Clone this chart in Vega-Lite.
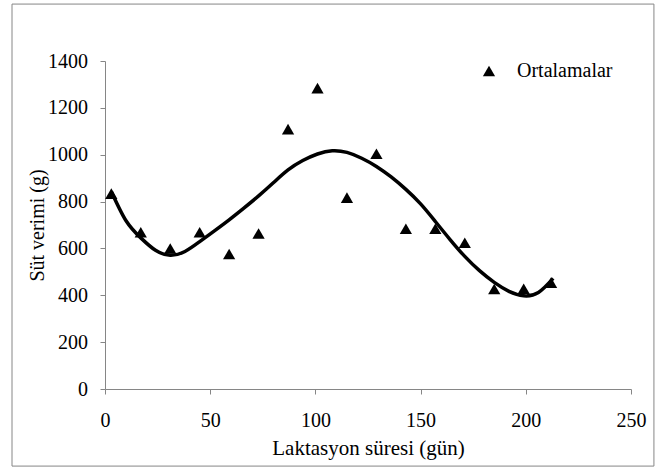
{
  "$schema": "https://vega.github.io/schema/vega-lite/v6.json",
  "width": 526,
  "height": 328,
  "autosize": {"type": "none"},
  "padding": {"left": 105, "top": 61, "right": 25, "bottom": 79},
  "background": "white",
  "config": {
    "view": {"stroke": null},
    "font": "Times New Roman",
    "axis": {
      "grid": false,
      "domainColor": "#868686",
      "tickColor": "#868686",
      "tickSize": 5,
      "labelFlush": false,
      "labelOverlap": false,
      "format": "d",
      "labelColor": "black",
      "titleColor": "black",
      "labelFont": "Times New Roman",
      "titleFont": "Times New Roman",
      "labelFontSize": 20,
      "titleFontSize": 20,
      "titleFontWeight": "normal"
    },
    "legend": {
      "labelFont": "Times New Roman"
    }
  },
  "datasets": {
    "means": [
      {"day": 3, "milk": 834, "series": "Ortalamalar"},
      {"day": 17, "milk": 669, "series": "Ortalamalar"},
      {"day": 31, "milk": 600, "series": "Ortalamalar"},
      {"day": 45, "milk": 669, "series": "Ortalamalar"},
      {"day": 59, "milk": 576, "series": "Ortalamalar"},
      {"day": 73, "milk": 664, "series": "Ortalamalar"},
      {"day": 87, "milk": 1109, "series": "Ortalamalar"},
      {"day": 101, "milk": 1284, "series": "Ortalamalar"},
      {"day": 115, "milk": 817, "series": "Ortalamalar"},
      {"day": 129, "milk": 1004, "series": "Ortalamalar"},
      {"day": 143, "milk": 684, "series": "Ortalamalar"},
      {"day": 157, "milk": 684, "series": "Ortalamalar"},
      {"day": 171, "milk": 624, "series": "Ortalamalar"},
      {"day": 185, "milk": 427, "series": "Ortalamalar"},
      {"day": 199, "milk": 428, "series": "Ortalamalar"},
      {"day": 212, "milk": 454, "series": "Ortalamalar"}
    ],
    "fit": [
      {"day": 3, "milk": 843},
      {"day": 10, "milk": 718},
      {"day": 17, "milk": 645},
      {"day": 24, "milk": 592},
      {"day": 31, "milk": 571},
      {"day": 38, "milk": 587},
      {"day": 45, "milk": 629},
      {"day": 52, "milk": 675},
      {"day": 59, "milk": 722},
      {"day": 66, "milk": 772},
      {"day": 73, "milk": 824},
      {"day": 80, "milk": 880},
      {"day": 87, "milk": 935},
      {"day": 94, "milk": 975},
      {"day": 101, "milk": 1003},
      {"day": 108, "milk": 1017},
      {"day": 115, "milk": 1010},
      {"day": 122, "milk": 985},
      {"day": 129, "milk": 950},
      {"day": 136, "milk": 905},
      {"day": 143, "milk": 852},
      {"day": 150, "milk": 790},
      {"day": 157, "milk": 715},
      {"day": 164, "milk": 638},
      {"day": 171, "milk": 566},
      {"day": 178, "milk": 505},
      {"day": 185, "milk": 455},
      {"day": 192, "milk": 417},
      {"day": 199, "milk": 398},
      {"day": 206, "milk": 412},
      {"day": 213, "milk": 472}
    ]
  },
  "layer": [
    {
      "data": {"values": [{}]},
      "mark": {"type": "rect", "fill": "transparent", "stroke": "#868686", "strokeWidth": 1, "clip": false},
      "encoding": {
        "x": {"datum": -44.2, "type": "quantitative"},
        "x2": {"datum": 260.9},
        "y": {"datum": 1643, "type": "quantitative"},
        "y2": {"datum": -329}
      }
    },
    {
      "data": {"name": "fit"},
      "mark": {"type": "line", "interpolate": "natural", "color": "black", "strokeWidth": 3.5},
      "encoding": {
        "x": {"field": "day", "type": "quantitative"},
        "y": {"field": "milk", "type": "quantitative"}
      }
    },
    {
      "data": {"name": "means"},
      "mark": {"type": "point", "filled": true, "color": "black", "opacity": 1, "size": 150},
      "encoding": {
        "x": {
          "field": "day",
          "type": "quantitative",
          "scale": {"domain": [0, 250], "nice": false, "zero": false},
          "axis": {
            "title": "Laktasyon süresi (gün)",
            "values": [0, 50, 100, 150, 200, 250],
            "labelBaseline": "alphabetic",
            "labelPadding": 32,
            "titleBaseline": "alphabetic",
            "titleY": 65,
            "titleFontSize": 21
          }
        },
        "y": {
          "field": "milk",
          "type": "quantitative",
          "scale": {"domain": [0, 1400], "nice": false, "zero": false},
          "axis": {
            "title": "Süt verimi (g)",
            "values": [0, 200, 400, 600, 800, 1000, 1200, 1400],
            "labelPadding": 12.5,
            "titleBaseline": "alphabetic",
            "titleX": -62
          }
        },
        "shape": {
          "field": "series",
          "type": "nominal",
          "scale": {"range": ["triangle-up"]},
          "legend": {
            "title": null,
            "orient": "none",
            "legendX": 374,
            "legendY": 0,
            "padding": 0,
            "symbolSize": 150,
            "symbolFillColor": "black",
            "symbolStrokeColor": "black",
            "symbolOpacity": 1,
            "labelFontSize": 20,
            "labelFont": "Times New Roman",
            "labelColor": "black",
            "labelOffset": 18
          }
        }
      }
    }
  ]
}
